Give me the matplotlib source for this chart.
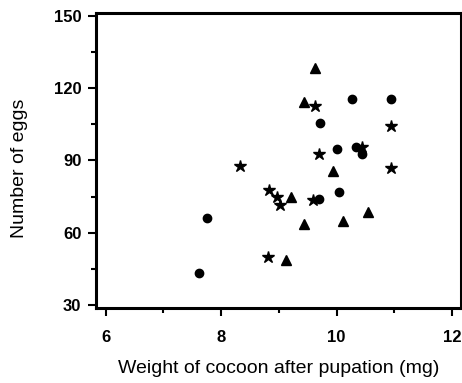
import matplotlib
matplotlib.use("Agg")
import matplotlib.pyplot as plt
from matplotlib.ticker import MultipleLocator

plt.rcParams['font.family'] = ['Liberation Sans', 'DejaVu Sans']
plt.rcParams['font.weight'] = 'bold'
plt.rcParams['xtick.labelsize'] = 12
plt.rcParams['ytick.labelsize'] = 12

circle_x = [7.61, 7.76, 9.71, 10.26, 10.95, 10.00, 10.34, 10.44, 10.04, 9.70]
circle_y = [43.1, 66.0, 105.7, 115.6, 115.6, 94.7, 95.7, 92.7, 76.7, 73.8]

tri_x = [9.63, 9.43, 9.94, 9.21, 9.43, 10.11, 10.55, 9.12]
tri_y = [128.5, 114.4, 85.6, 74.7, 63.6, 64.8, 68.7, 48.8]

star_x = [9.63, 10.95, 10.45, 9.70, 8.33, 10.95, 8.83, 8.96, 9.02, 9.59, 8.82]
star_y = [112.6, 104.4, 95.7, 92.7, 87.7, 86.7, 77.7, 74.9, 71.5, 73.6, 49.9]

xticks = [6, 8, 10, 12]
yticks = [30, 60, 90, 120, 150]

fig = plt.figure(figsize=(4.62, 3.83), dpi=100)
ax = fig.add_axes([0.2078, 0.196, 0.789, 0.771])

ax.plot(circle_x, circle_y, 'o', color='black', markersize=6, linestyle='none')
ax.plot(tri_x, tri_y, '^', color='black', markersize=6.5, linestyle='none')
ax.plot(star_x, star_y, '*', color='black', markersize=9, linestyle='none')

ax.set_xlim(5.83, 12.15)
ax.set_ylim(28.75, 151.4)
ax.set_xticks(xticks)
ax.set_yticks(yticks)
ax.xaxis.set_minor_locator(MultipleLocator(1))
ax.yaxis.set_minor_locator(MultipleLocator(15))

for s in ax.spines.values():
    s.set_linewidth(2.2)
ax.tick_params(which='major', direction='out', length=6, width=1.5)
ax.tick_params(which='minor', direction='out', length=3.5, width=1.5)
ax.tick_params(axis='x', which='major', pad=10)
ax.tick_params(axis='y', which='major', pad=4.5)

ax.set_xlabel('Weight of cocoon after pupation (mg)', fontsize=14,
              fontweight='normal', labelpad=11)
ax.set_ylabel('Number of eggs', fontsize=14, fontweight='normal')
ax.yaxis.set_label_coords(-0.186, 0.473)

fig.savefig('out.png', dpi=100)
